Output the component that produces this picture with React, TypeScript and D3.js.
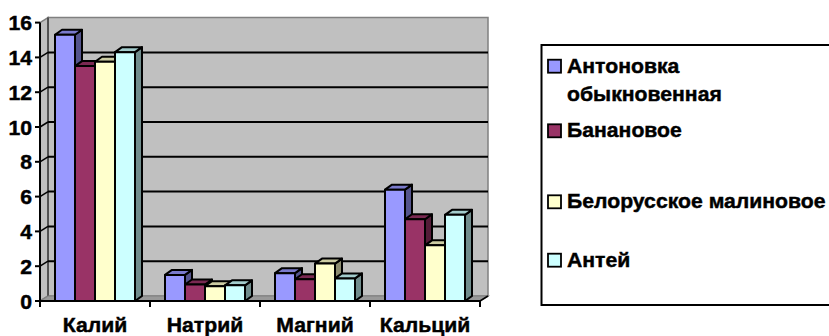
import React from "react";
import * as d3 from "d3";

// Mineral content of apple varieties (mg per 100 g)
const categories = ["Калий", "Натрий", "Магний", "Кальций"];
const seriesNames = ["Антоновка обыкновенная", "Банановое", "Белорусское малиновое", "Антей"];
const legendLines = [["Антоновка", "обыкновенная"], ["Банановое"], ["Белорусское малиновое"], ["Антей"]];
const antonovka = [15.3, 1.5, 1.6, 6.4];
const bananovoe = [13.5, 0.95, 1.25, 4.7];
const belorusskoe = [13.75, 0.85, 2.15, 3.2];
const antei = [14.3, 0.9, 1.3, 4.95];
const seriesColors = ["#9999FF", "#993366", "#FFFFCC", "#CCFFFF"];
const yTicks = [0, 2, 4, 6, 8, 10, 12, 14, 16];

const seriesValues = [antonovka, bananovoe, belorusskoe, antei];

const W = 829;
const H = 336;
const FONT = "'Liberation Sans', Arial, sans-serif";
const FS = 21;
const SX = 1.01;

// 3D offsets: bars and back wall
const BDX = 7, BDY = -5;
const WDX = 8, WDY = -5;

const x0 = 40, x1 = 480;
const y = d3.scaleLinear().domain([0, 16]).range([301, 22.6]);
const xCat = d3.scaleBand<string>().domain(categories).range([x0, x1]).paddingInner(0).paddingOuter(0);
const xSer = d3
  .scaleBand<number>()
  .domain(d3.range(seriesNames.length))
  .range([0, xCat.bandwidth()])
  .paddingInner(0)
  .paddingOuter(0.75);

const shade = (c: string, k: number) => {
  const col = d3.rgb(c);
  return d3.rgb(col.r * k, col.g * k, col.b * k).formatHex();
};

const pts = (p: number[][]) => p.map((q) => q.join(",")).join(" ");

function Label({ x, yy, anchor, children }: any) {
  return (
    <text
      transform={`translate(${x},${yy}) scale(${SX},1)`}
      textAnchor={anchor}
      fontFamily={FONT}
      fontWeight="bold"
      fontSize={FS}
      fill="#000"
      stroke="#000"
      strokeWidth={0.45}
    >
      {children}
    </text>
  );
}

export default function App() {
  const yTop = y(16);
  const yBase = y(0);
  const legendBaselines = [72.7, 137.3, 208.3, 266.7];

  return (
    <svg width={W} height={H} style={{ position: "absolute", left: 0, top: 0, background: "#fff" }}>
      {/* back wall */}
      <polygon
        points={pts([
          [x0 + WDX, yTop + WDY],
          [x1 + WDX, yTop + WDY],
          [x1 + WDX, yBase + WDY],
          [x0 + WDX, yBase + WDY],
        ])}
        fill="#C0C0C0"
        stroke="#808080"
        strokeWidth={1.5}
      />
      {/* left side wall */}
      <polygon
        points={pts([
          [x0, yTop],
          [x0 + WDX, yTop + WDY],
          [x0 + WDX, yBase + WDY],
          [x0, yBase],
        ])}
        fill="#C0C0C0"
        stroke="#808080"
        strokeWidth={1.5}
      />
      <line x1={x0 + WDX} x2={x0 + WDX} y1={yTop + WDY} y2={yBase + WDY} stroke="#404040" strokeWidth={1.5} />
      {/* floor */}
      <polygon
        points={pts([
          [x0, yBase],
          [x1, yBase],
          [x1 + WDX, yBase + WDY],
          [x0 + WDX, yBase + WDY],
        ])}
        fill="#999999"
        stroke="#808080"
        strokeWidth={1.2}
      />
      {/* gridlines */}
      {yTicks
        .filter((t) => t > 0 && t < 16)
        .map((t) => (
          <g key={t}>
            <line x1={x0 + WDX} x2={x1 + WDX} y1={y(t) + WDY} y2={y(t) + WDY} stroke="#000" strokeWidth={2} />
            <line x1={x0} x2={x0 + WDX} y1={y(t)} y2={y(t) + WDY} stroke="#000" strokeWidth={1.5} />
          </g>
        ))}
      {/* right floor edge */}
      <line x1={x1} y1={yBase} x2={x1 + WDX} y2={yBase + WDY} stroke="#000" strokeWidth={1.5} />

      {/* bars */}
      {categories.map((cat, ci) =>
        seriesValues.map((vals, si) => {
          const bx = (xCat(cat) as number) + (xSer(si) as number);
          const bw = xSer.bandwidth();
          const top = y(vals[ci]);
          const c = seriesColors[si];
          return (
            <g key={`${ci}-${si}`} stroke="#000" strokeWidth={2} strokeLinejoin="round">
              <polygon
                points={pts([
                  [bx + bw, top],
                  [bx + bw + BDX, top + BDY],
                  [bx + bw + BDX, yBase + BDY],
                  [bx + bw, yBase],
                ])}
                fill={shade(c, 0.55)}
              />
              <polygon
                points={pts([
                  [bx, top],
                  [bx + BDX, top + BDY],
                  [bx + bw + BDX, top + BDY],
                  [bx + bw, top],
                ])}
                fill={shade(c, 0.8)}
              />
              <rect x={bx} y={top} width={bw} height={yBase - top} fill={c} />
            </g>
          );
        })
      )}

      {/* axes */}
      <line x1={x0} x2={x0} y1={yTop} y2={yBase} stroke="#000" strokeWidth={2} />
      <line x1={x0} x2={x1} y1={yBase} y2={yBase} stroke="#000" strokeWidth={2} />
      {yTicks.map((t) => (
        <g key={t}>
          <line x1={x0 - 5} x2={x0} y1={y(t)} y2={y(t)} stroke="#000" strokeWidth={2} />
          <Label x={32} yy={y(t) + 7.5} anchor="end">
            {t}
          </Label>
        </g>
      ))}
      {d3.range(categories.length + 1).map((i) => {
        const tx = x0 + i * xCat.bandwidth();
        return <line key={i} x1={tx} x2={tx} y1={yBase} y2={yBase + 6} stroke="#000" strokeWidth={2} />;
      })}
      {categories.map((cat) => (
        <Label key={cat} x={(xCat(cat) as number) + xCat.bandwidth() / 2} yy={332} anchor="middle">
          {cat}
        </Label>
      ))}

      {/* legend */}
      <rect x={541.5} y={45} width={320} height={260} fill="#fff" stroke="#000" strokeWidth={2} />
      {seriesNames.map((name, i) => {
        const by = legendBaselines[i];
        return (
          <g key={name}>
            <rect x={548} y={by - 13} width={13} height={13} fill={seriesColors[i]} stroke="#000" strokeWidth={1.8} />
            {legendLines[i].map((ln, li) => (
              <Label key={li} x={567} yy={by + li * 28.5} anchor="start">
                {ln}
              </Label>
            ))}
          </g>
        );
      })}
    </svg>
  );
}
